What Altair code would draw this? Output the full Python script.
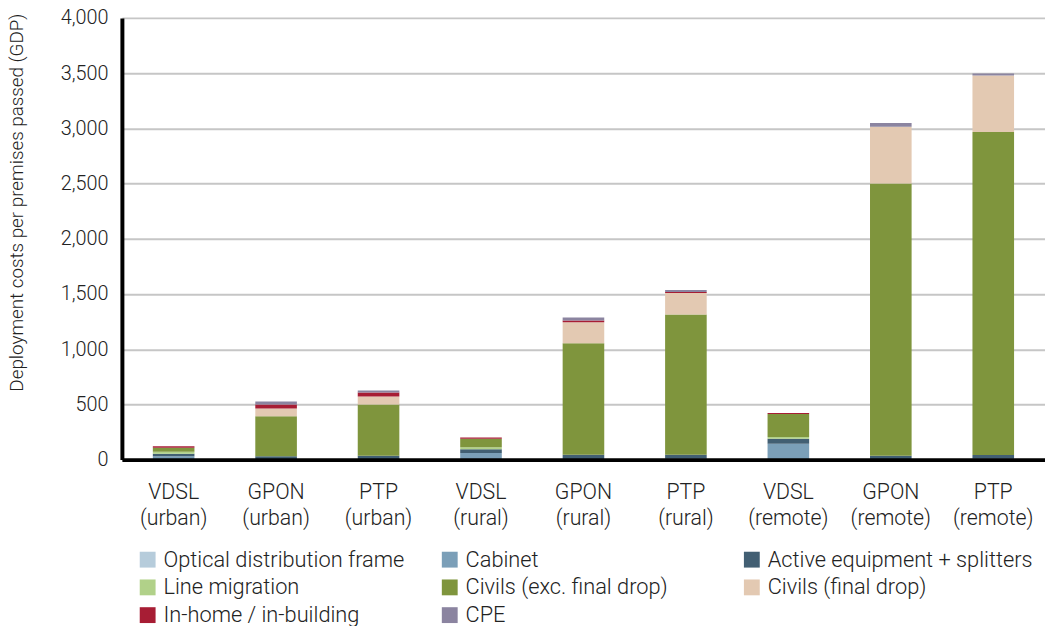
import altair as alt
import pandas as pd

categories = ["VDSL\n(urban)", "GPON\n(urban)", "PTP\n(urban)",
              "VDSL\n(rural)", "GPON\n(rural)", "PTP\n(rural)",
              "VDSL\n(remote)", "GPON\n(remote)", "PTP\n(remote)"]

components = ["Optical distribution frame", "Cabinet", "Active equipment + splitters",
              "Line migration", "Civils (exc. final drop)", "Civils (final drop)",
              "In-home / in-building", "CPE"]

odf         = [0, 0, 0, 0, 0, 9, 0, 0, 9]
cabinet     = [30, 0, 0, 60, 0, 0, 143, 0, 0]
active      = [24, 30, 36, 33, 45, 36, 45, 36, 33]
line_mig    = [18, 0, 0, 18, 0, 0, 18, 0, 0]
civils_exc  = [36, 363, 464, 77, 1009, 1268, 208, 2464, 2925]
civils_drop = [0, 71, 71, 0, 190, 196, 0, 514, 512]
in_home     = [12, 36, 36, 12, 15, 9, 9, 0, 0]
cpe         = [0, 27, 18, 0, 27, 18, 0, 34, 18]

colors = ["#b6ccdb", "#7b9fb8", "#425f73", "#b1d189",
          "#7f953d", "#e3c9b2", "#a71d34", "#8b84a0"]

series = [odf, cabinet, active, line_mig, civils_exc, civils_drop, in_home, cpe]
rows = []
for k, (name, vals) in enumerate(zip(components, series)):
    for cat, v in zip(categories, vals):
        rows.append({"cat": cat, "component": name, "value": v, "ord": k})
df = pd.DataFrame(rows)

FONT = "Roboto"
TXT = "#222222"

bars = alt.Chart(df).mark_bar(size=42).encode(
    x=alt.X("cat:N", sort=categories, title=None,
            scale=alt.Scale(paddingInner=0.59, paddingOuter=0.3),
            axis=alt.Axis(labelAngle=0, labelExpr="split(datum.label, '\\n')",
                          labelLineHeight=27, labelFontSize=21.5, labelFont=FONT,
                          labelFontWeight=300, labelColor=TXT, labelPadding=22,
                          labelBaseline="top",
                          ticks=False, domainColor="#000000", domainWidth=4,
                          grid=False, zindex=1)),
    y=alt.Y("value:Q", stack="zero",
            scale=alt.Scale(domain=[0, 4000], nice=False),
            axis=alt.Axis(values=list(range(0, 4001, 500)), format=",.0f",
                          title="Deployment costs per premises passed (GDP)",
                          titleFont=FONT, titleFontSize=19, titleFontWeight=300,
                          titleColor=TXT, titleAngle=270, titleX=-96, titleY=186,
                          titleAlign="center", titleBaseline="bottom",
                          labelFontSize=20, labelFont=FONT, labelFontWeight=300,
                          labelColor=TXT, labelPadding=14, ticks=False,
                          domainColor="#000000", domainWidth=4,
                          gridColor="#c6c6c6", gridWidth=2)),
    color=alt.Color("component:N", sort=components,
                    scale=alt.Scale(domain=components, range=colors),
                    legend=alt.Legend(title=None, orient="none", legendX=15, legendY=536,
                                      direction="horizontal", columns=3,
                                      gridAlign="all", columnPadding=10, rowPadding=6,
                                      symbolType="square", symbolSize=256,
                                      symbolStrokeWidth=0, symbolOpacity=1,
                                      labelFont=FONT, labelFontSize=22,
                                      labelFontWeight=300, labelColor=TXT,
                                      labelOffset=5, labelLimit=400, padding=0)),
    order=alt.Order("ord:Q", sort="ascending"),
)

chart = bars.properties(
    width=932, height=446,
    padding={"left": 115, "top": 7, "right": 0, "bottom": 165},
    autosize=alt.AutoSizeParams(type="none"),
).configure_view(stroke=None)

chart.save("out.html", embed_options={"renderer": "svg", "actions": False})
